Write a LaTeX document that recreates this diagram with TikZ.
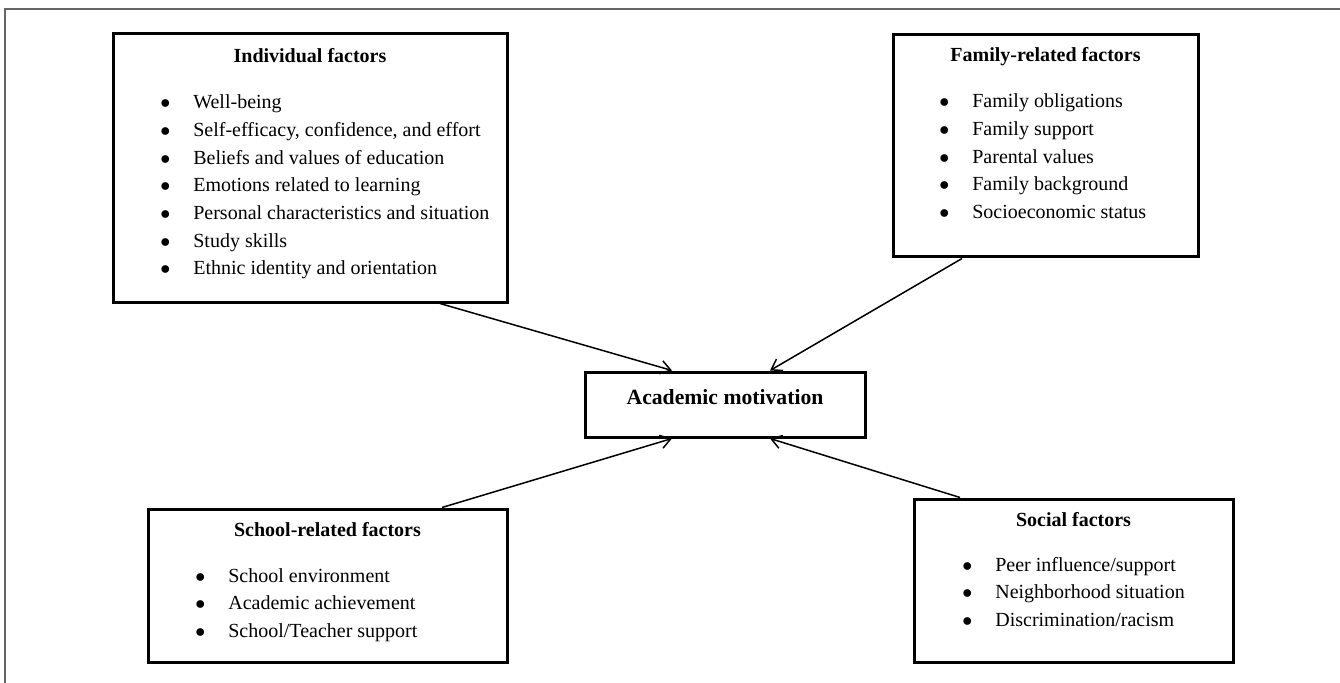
\documentclass[tikz,border=0pt]{standalone}
\usepackage{fontspec}
\setmainfont{Liberation Serif}
\usetikzlibrary{arrows.meta, positioning, fit}

\begin{document}
\begin{tikzpicture}[
  x=0.6pt, y=-0.6pt,
  factor/.style={rectangle, draw, line width=1.8pt, inner sep=0pt},
  heading/.style={font=\fontsize{12}{14}\selectfont\bfseries, anchor=base, inner sep=0pt},
  items/.style={font=\fontsize{12}{16.6}\selectfont, anchor=base west, inner sep=0pt},
  link/.style={-{Straight Barb[length=6pt,width=8pt]}, line width=0.9pt},
  frame/.style={draw=black!60, line width=0.7pt}
]
\useasboundingbox (0,0) rectangle (1340,683);

% Page frame
\coordinate (fbl) at (5,683);
\coordinate (ftl) at (5,9);
\coordinate (ftr) at (1340,9);
\draw[frame] (fbl) -- (ftl) -- (ftr);

% Individual factors
\node[factor, fit={(113,34) (507,302)}] (ind) {};
\node[heading] (indhead) at (310,63) {Individual factors};
\node[items] (indlist) at (160,109) {\begin{tabular}[t]{@{}l@{\hspace{13.8pt}}l@{}}
$\bullet$ & Well-being\\
$\bullet$ & Self-efficacy, confidence, and effort\\
$\bullet$ & Beliefs and values of education\\
$\bullet$ & Emotions related to learning\\
$\bullet$ & Personal characteristics and situation\\
$\bullet$ & Study skills\\
$\bullet$ & Ethnic identity and orientation
\end{tabular}};

% Family-related factors
\node[factor, fit={(893,35) (1198,257)}] (fam) {};
\node[heading] (famhead) at (1045.5,62) {Family-related factors};
\node[items] (famlist) at (939,108) {\begin{tabular}[t]{@{}l@{\hspace{13.8pt}}l@{}}
$\bullet$ & Family obligations\\
$\bullet$ & Family support\\
$\bullet$ & Parental values\\
$\bullet$ & Family background\\
$\bullet$ & Socioeconomic status
\end{tabular}};

% Academic motivation
\node[factor, fit={(585,372) (865,437)}] (acad) {};
\node[heading, font=\fontsize{13}{15}\selectfont\bfseries] (acadhead) at (725,404) {Academic motivation};

% School-related factors
\node[factor, fit={(148,509) (507,662)}] (sch) {};
\node[heading] (schhead) at (327.5,536) {School-related factors};
\node[items] (schlist) at (195,582) {\begin{tabular}[t]{@{}l@{\hspace{13.8pt}}l@{}}
$\bullet$ & School environment\\
$\bullet$ & Academic achievement\\
$\bullet$ & School/Teacher support
\end{tabular}};

% Social factors
\node[factor, fit={(914,499) (1233,662)}] (soc) {};
\node[heading] (sochead) at (1073.5,526) {Social factors};
\node[items] (soclist) at (962,571) {\begin{tabular}[t]{@{}l@{\hspace{13.8pt}}l@{}}
$\bullet$ & Peer influence/support\\
$\bullet$ & Neighborhood situation\\
$\bullet$ & Discrimination/racism
\end{tabular}};

% Arrows into the centre box
\draw[link] ([xshift=78pt]ind.south) -- ([xshift=-31.8pt]acad.north);
\draw[link] ([xshift=-50.1pt]fam.south) -- ([xshift=27pt]acad.north);
\draw[link] ([xshift=68.7pt]sch.north) -- ([xshift=-31.8pt]acad.south);
\draw[link] ([xshift=-68.1pt]soc.north) -- ([xshift=27pt]acad.south);

\end{tikzpicture}
\end{document}
